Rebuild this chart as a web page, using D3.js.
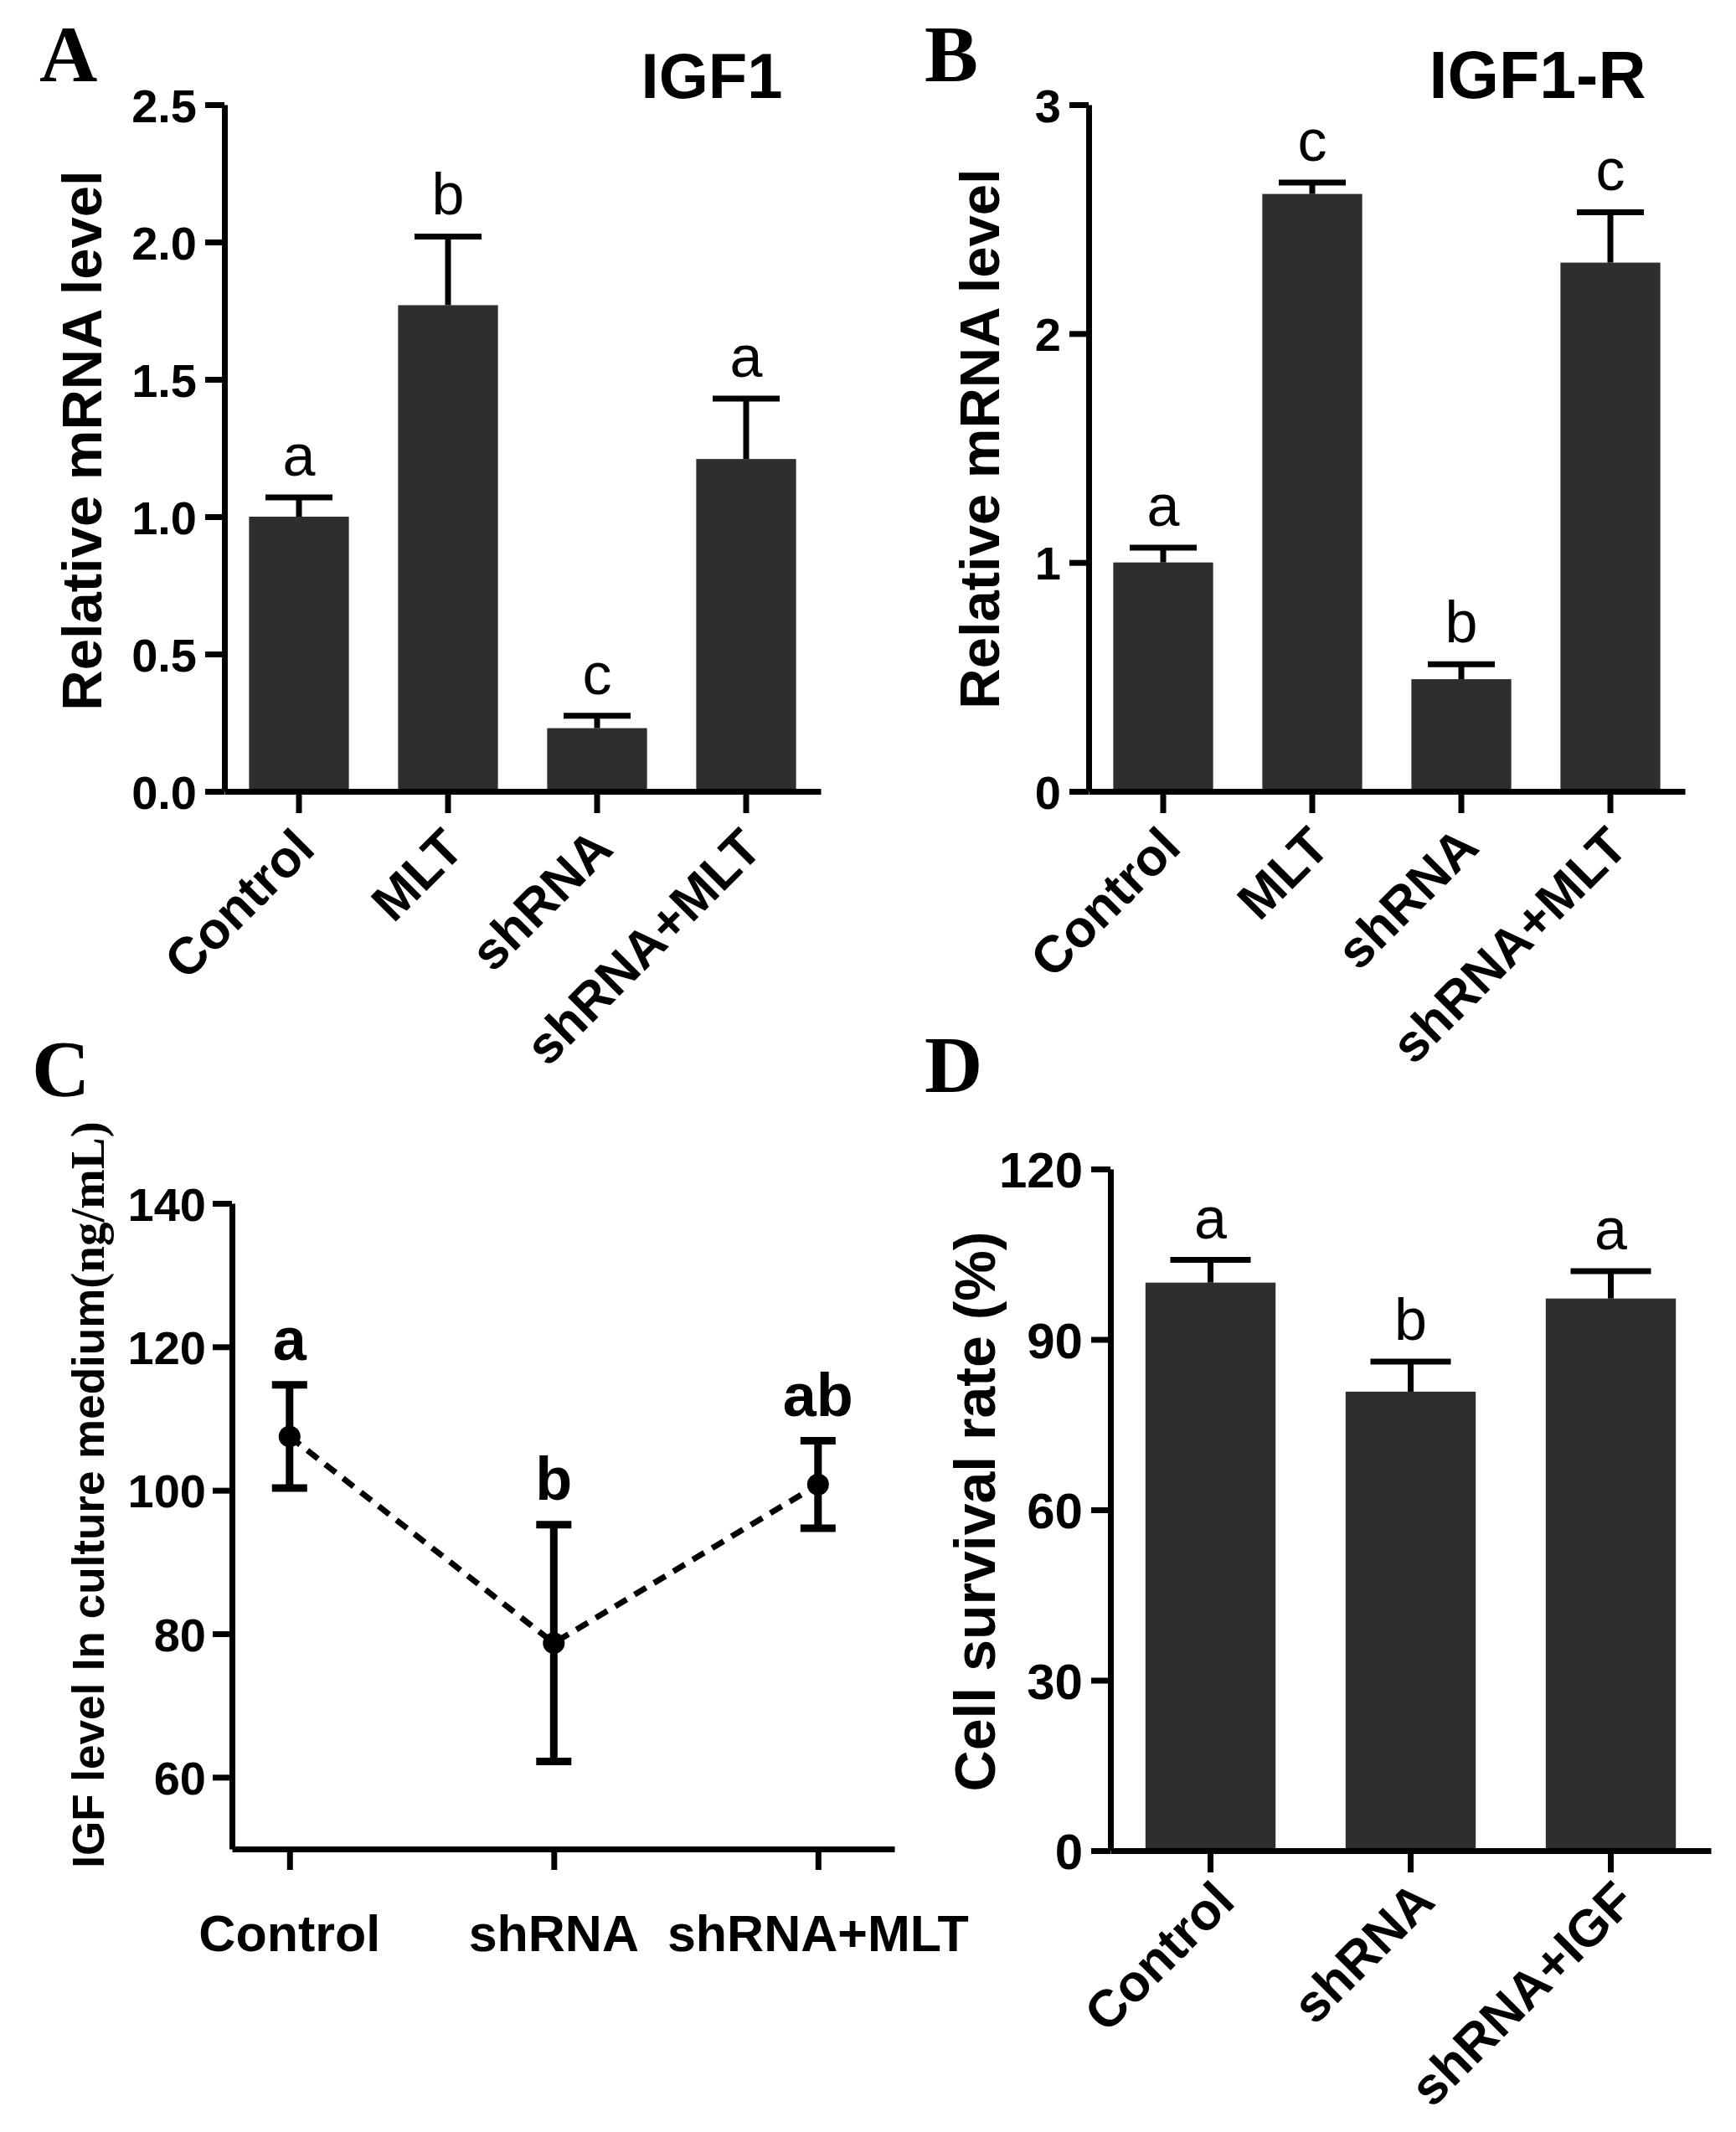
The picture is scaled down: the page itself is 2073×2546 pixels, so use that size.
<!DOCTYPE html>
<html>
<head>
<meta charset="utf-8">
<script src="https://cdn.jsdelivr.net/npm/d3@7"></script>
<style>
  body { margin: 0; background: #fff; }
  text { font-family: "Liberation Sans", Arial, sans-serif; fill: #000; }
</style>
</head>
<body>
<svg id="fig"></svg>
<script>
// ---- data ----
const groupsAB = ["Control", "MLT", "shRNA", "shRNA+MLT"];

const igf1Mean = [1.0, 1.77, 0.23, 1.21];
const igf1Err = [0.07, 0.25, 0.045, 0.22];
const igf1Sig = ["a", "b", "c", "a"];
const igf1Ticks = [0, 0.5, 1.0, 1.5, 2.0, 2.5];

const igf1rMean = [1.0, 2.61, 0.49, 2.31];
const igf1rErr = [0.065, 0.05, 0.065, 0.22];
const igf1rSig = ["a", "c", "b", "c"];
const igf1rTicks = [0, 1, 2, 3];

const groupsC = ["Control", "shRNA", "shRNA+MLT"];
const mediumMean = [107.5, 78.7, 100.8];
const mediumErr = [7.2, 16.5, 6.1];
const mediumSig = ["a", "b", "ab"];
const mediumTicks = [60, 80, 100, 120, 140];

const groupsD = ["Control", "shRNA", "shRNA+IGF"];
const survivalMean = [100, 80.8, 97.2];
const survivalErr = [4.0, 5.3, 4.8];
const survivalSig = ["a", "b", "a"];
const survivalTicks = [0, 30, 60, 90, 120];

const W = 2073, H = 2546;
const LINE = 7, BAR = "#2e2e2e";
const SERIF = "'Liberation Serif', 'Times New Roman', serif";

const svg = d3.select("#fig").attr("width", W).attr("height", H);
svg.append("rect").attr("width", W).attr("height", H).attr("fill", "#fff");

function styleAxis(g, fs) {
    g.select(".domain").attr("stroke", "#000").attr("stroke-width", LINE);
    g.selectAll(".tick line").attr("stroke", "#000").attr("stroke-width", LINE);
    g.selectAll(".tick text")
        .attr("font-size", fs)
        .attr("font-weight", "bold")
        .attr("fill", "#000");
}

function panelLetter(t, x, y) {
    svg.append("text").text(t)
        .attr("x", x).attr("y", y)
        .style("font-family", SERIF)
        .attr("font-weight", "bold")
        .attr("font-size", 96);
}

function yTitle(t, x, y, fs) {
    svg.append("text").text(t)
        .attr("transform", `translate(${x},${y}) rotate(-90)`)
        .attr("text-anchor", "middle")
        .attr("font-weight", "bold")
        .attr("font-size", fs);
}

// bar chart with upper error bars (panels A, B, D)
function barPanel(o) {
    const g = svg.append("g");
    const x = d3.scaleBand().domain(o.groups)
        .range([o.left, o.right])
        .paddingInner(o.pad).paddingOuter(o.pad / 2);
    const y = d3.scaleLinear()
        .domain([0, o.ticks[o.ticks.length - 1]])
        .range([o.bottom, o.top]);

    const rows = o.groups.map((k, i) => ({k: k, m: o.mean[i], e: o.err[i], s: o.sig[i]}));

    g.selectAll(".bar").data(rows).join("rect")
        .attr("x", d => x(d.k))
        .attr("width", x.bandwidth())
        .attr("y", d => y(d.m))
        .attr("height", d => y(0) - y(d.m))
        .attr("fill", BAR);

    const cx = d => x(d.k) + x.bandwidth() / 2;
    // error stems and caps
    g.selectAll(".stem").data(rows).join("line")
        .attr("x1", cx).attr("x2", cx)
        .attr("y1", d => y(d.m)).attr("y2", d => y(d.m + d.e))
        .attr("stroke", "#000").attr("stroke-width", LINE);
    g.selectAll(".cap").data(rows).join("line")
        .attr("x1", d => cx(d) - o.cap / 2).attr("x2", d => cx(d) + o.cap / 2)
        .attr("y1", d => y(d.m + d.e)).attr("y2", d => y(d.m + d.e))
        .attr("stroke", "#000").attr("stroke-width", LINE);

    // significance letters
    g.selectAll(".sig").data(rows).join("text")
        .attr("x", cx)
        .attr("y", d => y(d.m + d.e) - 26)
        .attr("text-anchor", "middle")
        .attr("font-size", 70)
        .text(d => d.s);

    const ya = g.append("g")
        .attr("transform", `translate(${o.left},0)`)
        .call(d3.axisLeft(y).tickValues(o.ticks).tickSize(23).tickSizeOuter(0)
            .tickPadding(10).tickFormat(o.fmt));
    styleAxis(ya, o.tickFs);
    ya.selectAll(".tick text").attr("dy", "0.36em");

    const xa = g.append("g")
        .attr("transform", `translate(0,${o.bottom})`)
        .call(d3.axisBottom(x).tickSize(26).tickSizeOuter(0).tickFormat(""));
    styleAxis(xa, o.tickFs);

    g.selectAll(".xl").data(rows).join("text")
        .attr("transform", d => `translate(${cx(d) + o.labDx},${o.bottom + o.labDy}) rotate(-45)`)
        .attr("text-anchor", "end")
        .attr("dy", "0.72em")
        .attr("font-weight", "bold")
        .attr("font-size", o.labFs)
        .text(d => d.k);
}

// ---- A: IGF1 ----
panelLetter("A", 47, 97);
svg.append("text").text("IGF1")
    .attr("x", 850).attr("y", 117).attr("text-anchor", "middle")
    .attr("font-weight", "bold").attr("font-size", 76);
yTitle("Relative mRNA level", 121, 526, 67);
barPanel({
    groups: groupsAB, mean: igf1Mean, err: igf1Err, sig: igf1Sig, ticks: igf1Ticks,
    fmt: d3.format(".1f"), left: 268, right: 980, top: 125, bottom: 945,
    pad: 0.33, cap: 80, tickFs: 56, labFs: 62, labDx: -10, labDy: 40
});

// ---- B: IGF1-R ----
panelLetter("B", 1104, 97);
svg.append("text").text("IGF1-R")
    .attr("x", 1836).attr("y", 117).attr("text-anchor", "middle")
    .attr("font-weight", "bold").attr("font-size", 79);
yTitle("Relative mRNA level", 1193, 524, 67);
barPanel({
    groups: groupsAB, mean: igf1rMean, err: igf1rErr, sig: igf1rSig, ticks: igf1rTicks,
    fmt: d3.format("d"), left: 1300, right: 2012, top: 125, bottom: 945,
    pad: 0.33, cap: 80, tickFs: 56, labFs: 62, labDx: -8, labDy: 38
});

// ---- C: IGF in culture medium ----
panelLetter("C", 38, 1309);
{
    const g = svg.append("g");
    const x = d3.scalePoint().domain(groupsC).range([277, 1068]).padding(0.2535).align(0.43);
    const y = d3.scaleLinear().domain([50, 140]).range([2208, 1437]);
    const rows = groupsC.map((k, i) => ({k: k, m: mediumMean[i], e: mediumErr[i], s: mediumSig[i]}));

    const ya = g.append("g")
        .attr("transform", "translate(277,0)")
        .call(d3.axisLeft(y).tickValues(mediumTicks).tickSize(23).tickSizeOuter(0).tickPadding(8));
    styleAxis(ya, 56);
    ya.selectAll(".tick text").attr("dy", "0.36em");

    const xa = g.append("g")
        .attr("transform", "translate(0,2208)")
        .call(d3.axisBottom(x).tickSize(25).tickSizeOuter(0).tickFormat(""));
    styleAxis(xa, 56);

    g.append("path").datum(rows)
        .attr("fill", "none")
        .attr("stroke", "#000")
        .attr("stroke-width", 7)
        .attr("stroke-dasharray", "16,11")
        .attr("d", d3.line().x(d => x(d.k)).y(d => y(d.m)));

    g.selectAll(".eb").data(rows).join("line")
        .attr("x1", d => x(d.k)).attr("x2", d => x(d.k))
        .attr("y1", d => y(d.m - d.e)).attr("y2", d => y(d.m + d.e))
        .attr("stroke", "#000").attr("stroke-width", 9);
    [1, -1].forEach(sgn => {
        g.selectAll(".cap" + sgn).data(rows).join("line")
            .attr("x1", d => x(d.k) - 21).attr("x2", d => x(d.k) + 21)
            .attr("y1", d => y(d.m + sgn * d.e)).attr("y2", d => y(d.m + sgn * d.e))
            .attr("stroke", "#000").attr("stroke-width", 9);
    });
    g.selectAll(".pt").data(rows).join("circle")
        .attr("cx", d => x(d.k)).attr("cy", d => y(d.m)).attr("r", 13)
        .attr("fill", "#000");

    g.selectAll(".sig").data(rows).join("text")
        .attr("x", d => x(d.k)).attr("y", d => y(d.m + d.e) - 30)
        .attr("text-anchor", "middle")
        .attr("font-weight", "bold").attr("font-size", 72)
        .text(d => d.s);

    g.selectAll(".xl").data(rows).join("text")
        .attr("x", d => x(d.k)).attr("y", 2330)
        .attr("text-anchor", "middle")
        .attr("font-weight", "bold").attr("font-size", 61)
        .text(d => d.k);

    const t = svg.append("text")
        .attr("transform", "translate(124,1785) rotate(-90)")
        .attr("text-anchor", "middle")
        .attr("font-weight", "bold");
    t.append("tspan").attr("font-size", 53).text("IGF level In culture medium");
    t.append("tspan").attr("font-size", 57)
        .style("font-family", SERIF)
        .text("(ng/mL)");
}

// ---- D: cell survival ----
panelLetter("D", 1104, 1304);
yTitle("Cell survival rate (%)", 1188, 1805, 68);
barPanel({
    groups: groupsD, mean: survivalMean, err: survivalErr, sig: survivalSig, ticks: survivalTicks,
    fmt: d3.format("d"), left: 1326, right: 2043, top: 1396, bottom: 2210,
    pad: 0.35, cap: 96, tickFs: 60, labFs: 62, labDx: 0, labDy: 32
});
</script>
</body>
</html>
